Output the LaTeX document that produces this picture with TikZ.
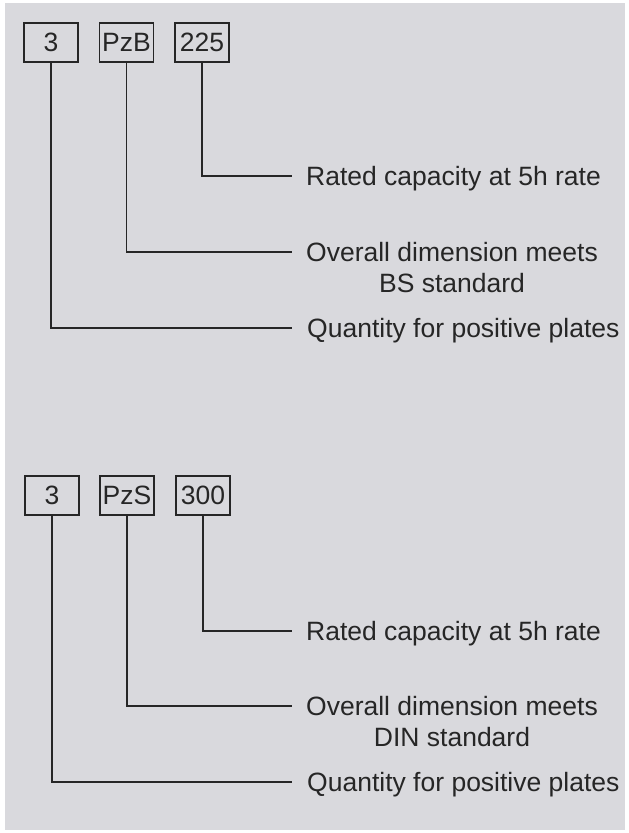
\documentclass[tikz,border=0pt]{standalone}
\usepackage{fontspec}
\setmainfont{Liberation Sans}
\definecolor{bg}{RGB}{217,217,221}
\definecolor{ink}{RGB}{38,38,38}
\begin{document}
\begin{tikzpicture}[x=1pt,y=-1pt,
  box/.style={draw=ink, line width=1.5pt, minimum width=54pt, minimum height=39pt,
    inner sep=0pt, font=\fontsize{26.5}{31}\selectfont, text=ink},
  lbl/.style={anchor=base west, inner sep=0pt, font=\fontsize{26.5}{31}\selectfont,
    text=ink, align=center},
  conn/.style={draw=ink, line width=1.5pt}]
\useasboundingbox (0,0) rectangle (629,833);
\fill[white] (0,0) rectangle (629,833);
\fill[bg] (5,3) rectangle (625,830);

% ---- upper diagram ----
\node[box] (q1) at (51,42.5) {3};
\node[box] (t1) at (126.5,42.5) {PzB};
\node[box] (c1) at (202,42.5) {225};
\coordinate (ec1) at (292,176);
\coordinate (et1) at (292,252);
\coordinate (eq1) at (292,328);
\node[lbl] (lc1) at (306,185) {Rated capacity at 5h rate};
\node[lbl] (lt1) at (306,292) {Overall dimension meets\\BS standard};
\node[lbl] (lq1) at (307,337) {Quantity for positive plates};
\draw[conn] (c1.south) |- (ec1);
\draw[conn] (t1.south) |- (et1);
\draw[conn] (q1.south) |- (eq1);

% ---- lower diagram ----
\node[box] (q2) at (52,495.5) {3};
\node[box] (t2) at (127,495.5) {PzS};
\node[box] (c2) at (203,495.5) {300};
\coordinate (ec2) at (292,631);
\coordinate (et2) at (292,706);
\coordinate (eq2) at (292,782);
\node[lbl] (lc2) at (306,640) {Rated capacity at 5h rate};
\node[lbl] (lt2) at (306,746) {Overall dimension meets\\DIN standard};
\node[lbl] (lq2) at (307,791) {Quantity for positive plates};
\draw[conn] (c2.south) |- (ec2);
\draw[conn] (t2.south) |- (et2);
\draw[conn] (q2.south) |- (eq2);
\end{tikzpicture}
\end{document}
